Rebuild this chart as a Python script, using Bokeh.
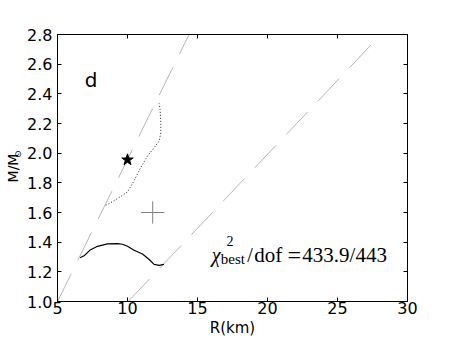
from bokeh.plotting import figure
from bokeh.models import Range1d, FixedTicker, LinearAxis, Label, PrintfTickFormatter, Title
from bokeh.embed import file_html
from bokeh.resources import INLINE

# ---- data ----
x_ticks = [5, 10, 15, 20, 25, 30]
y_ticks = [1.0, 1.2, 1.4, 1.6, 1.8, 2.0, 2.2, 2.4, 2.6, 2.8]

solid_R = [6.61, 6.9, 7.3, 7.86, 8.57, 9.29, 9.64, 10.0, 10.47, 11.07, 11.55, 11.9, 12.26, 12.6]
solid_M = [1.295, 1.308, 1.345, 1.372, 1.388, 1.39, 1.386, 1.372, 1.345, 1.32, 1.283, 1.25, 1.243, 1.25]

dotted_R = [8.45, 8.69, 9.29, 10.0, 10.47, 10.95, 11.43, 11.9, 12.26, 12.38, 12.38, 12.33, 12.26]
dotted_M = [1.649, 1.66, 1.694, 1.738, 1.815, 1.904, 1.981, 2.037, 2.081, 2.137, 2.203, 2.29, 2.336]

dash1_R = [5.0, 14.4]
dash1_M = [1.0, 2.8]
dash2_R = [10.05, 27.6]
dash2_M = [1.0, 2.75]

star_R = [10.0]
star_M = [1.955]

cross_R = 11.8
cross_M = 1.6
cross_dR = 0.83
cross_dM = 0.075

panel_letter = "d"
x_title = "R(km)"
y_title = "M/M"
y_title_sub = "⊙"

# ---- figure ----
p = figure(width=452, height=339, output_backend="svg", toolbar_location=None,
           x_range=Range1d(5, 30), y_range=Range1d(1.0, 2.8),
           min_border_left=57, min_border_right=45, min_border_top=34, min_border_bottom=35)
p.grid.visible = False
p.outline_line_color = "black"
p.outline_line_width = 1
p.background_fill_color = "white"
p.border_fill_color = "white"

def style_axis(ax, ticks, show_labels, fmt, standoff):
    ax.ticker = FixedTicker(ticks=ticks)
    ax.major_tick_in = 4
    ax.major_tick_out = 0
    ax.minor_tick_line_color = None
    ax.axis_line_color = "black"
    ax.major_tick_line_color = "black"
    ax.major_label_standoff = standoff
    ax.major_label_text_font = "DejaVu Sans"
    ax.major_label_text_font_size = "16px"
    ax.major_label_text_color = "black"
    if show_labels:
        ax.formatter = PrintfTickFormatter(format=fmt)
    else:
        ax.major_label_overrides = {t: "" for t in ticks}
        ax.major_label_standoff = 0

style_axis(p.xaxis[0], x_ticks, True, "%d", 0)
style_axis(p.yaxis[0], y_ticks, True, "%.1f", 5)
p.xaxis[0].axis_label = x_title
p.xaxis[0].axis_label_text_font = "DejaVu Sans"
p.xaxis[0].axis_label_text_font_size = "15px"
p.xaxis[0].axis_label_text_font_style = "normal"
p.xaxis[0].axis_label_text_color = "black"
p.xaxis[0].axis_label_standoff = 2

top_ax = LinearAxis()
right_ax = LinearAxis()
style_axis(top_ax, x_ticks, False, "%d", 0)
style_axis(right_ax, y_ticks, False, "%.1f", 0)
p.add_layout(top_ax, "above")
p.add_layout(right_ax, "right")

# y-axis title: "M/M" with a subscript sun symbol
p.add_layout(Title(text=y_title_sub, align="right", offset=116, standoff=3,
                   text_font="DejaVu Sans", text_font_size="9px", text_font_style="normal",
                   text_color="black"), "left")
p.add_layout(Title(text=y_title, align="center", offset=0, standoff=-23,
                   text_font="DejaVu Sans", text_font_size="14px", text_font_style="normal",
                   text_color="black"), "left")

# dashed limit lines
p.line(dash1_R, dash1_M, line_color="#b5b5b5", line_width=1, line_dash="31 15")
p.line(dash2_R, dash2_M, line_color="#b5b5b5", line_width=1, line_dash="31 15")

# curves
p.line(solid_R, solid_M, line_color="black", line_width=1.2)
p.line(dotted_R, dotted_M, line_color="#222222", line_width=1, line_dash="1 2")

# star
p.scatter(star_R, star_M, marker="star", size=12, color="black")

# cross
p.segment(x0=[cross_R - cross_dR, cross_R], y0=[cross_M, cross_M - cross_dM],
          x1=[cross_R + cross_dR, cross_R], y1=[cross_M, cross_M + cross_dM],
          line_color="#808080", line_width=1)

# panel letter
p.add_layout(Label(x=6.95, y=2.49, text=panel_letter, text_font="DejaVu Sans",
                   text_font_size="20px", text_baseline="alphabetic", text_align="left",
                   text_color="black"))

# chi^2 annotation
serif = "Liberation Serif"
def add_text(x, y, s, size, style="normal"):
    p.add_layout(Label(x=x, y=y, text=s, text_font=serif, text_font_style=style,
                       text_font_size=size, text_baseline="alphabetic", text_color="black"))

add_text(16.02, 1.3165, "χ", "20px", "italic")
add_text(17.08, 1.41, "2", "14px")
add_text(16.66, 1.2846, "best", "15px")
add_text(18.55, 1.3165, "/", "20px")
add_text(19.06, 1.3165, "dof", "21px")
add_text(21.42, 1.3165, "=", "24px")
add_text(22.49, 1.3165, "433.9/443", "21px")

open("out.html", "w").write(file_html(p, INLINE))
